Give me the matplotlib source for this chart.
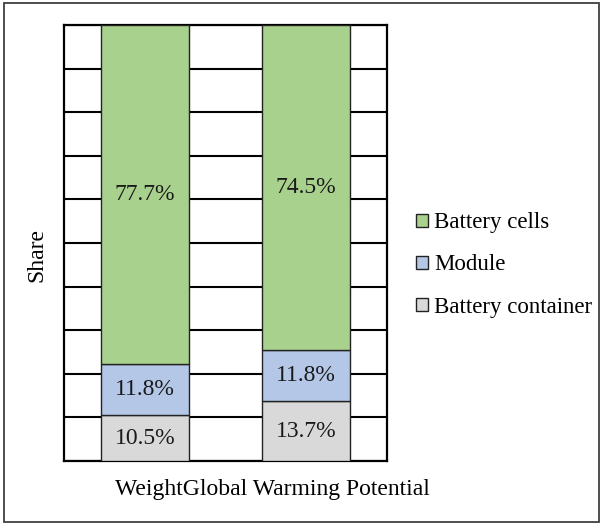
import matplotlib.pyplot as plt
from matplotlib.patches import Patch, Rectangle

plt.rcParams['font.family'] = ['Liberation Serif', 'DejaVu Serif']

categories = ['Weight', 'Global Warming Potential']
container = [10.5, 13.7]
module = [11.8, 11.8]
cells = [77.7, 74.5]

colors = {'Battery container': '#D9D9D9', 'Module': '#B4C7E7', 'Battery cells': '#A9D18E'}
fs = 17

fig = plt.figure(figsize=(6.02, 5.24), dpi=100)
ax = fig.add_axes([64/602, 1-461/524, 323/602, 436/524])

x = range(len(categories))
width = 0.545
bottom = [0, 0]
for name, vals in [('Battery container', container), ('Module', module), ('Battery cells', cells)]:
    ax.bar(x, vals, width, bottom=bottom, color=colors[name], edgecolor='#222222',
           linewidth=1.0, zorder=3)
    for xi, b, v in zip(x, bottom, vals):
        ax.text(xi, b + v / 2, f'{v:.1f}%', ha='center', va='center',
                fontsize=fs, color='#1a1a1a', zorder=4)
    bottom = [b + v for b, v in zip(bottom, vals)]

ax.set_xlim(-0.5, 1.5)
ax.set_ylim(0, 100)
ax.set_yticks(range(0, 101, 10))
ax.set_xticks([])
ax.tick_params(axis='y', length=0, labelleft=False)
ax.yaxis.grid(True, color='black', linewidth=1.5, zorder=0)
ax.set_axisbelow(True)
for s in ax.spines.values():
    s.set_linewidth(1.6)
    s.set_color('black')

fig.text(37/602, 1-255/524, 'Share', rotation=90, ha='center', va='center', fontsize=fs)
fig.text(272/602, 1-490/524, ''.join(categories), ha='center', va='center', fontsize=fs)

handles = [Patch(facecolor=colors[n], edgecolor='#222222', linewidth=1.0)
           for n in ['Battery cells', 'Module', 'Battery container']]
fig.legend(handles, ['Battery cells', 'Module', 'Battery container'],
           loc='center left', bbox_to_anchor=(407/602, 1-265/524), frameon=False,
           fontsize=16.5, handlelength=0.5, handleheight=0.5, handletextpad=0.3,
           labelspacing=0.93, borderaxespad=0)

# outer frame
fig.patches.append(Rectangle((4/602, 2/524), 595/602, 519/524, transform=fig.transFigure,
                             fill=False, edgecolor='#404040', linewidth=1.3))

fig.savefig('out.png', dpi=100)
